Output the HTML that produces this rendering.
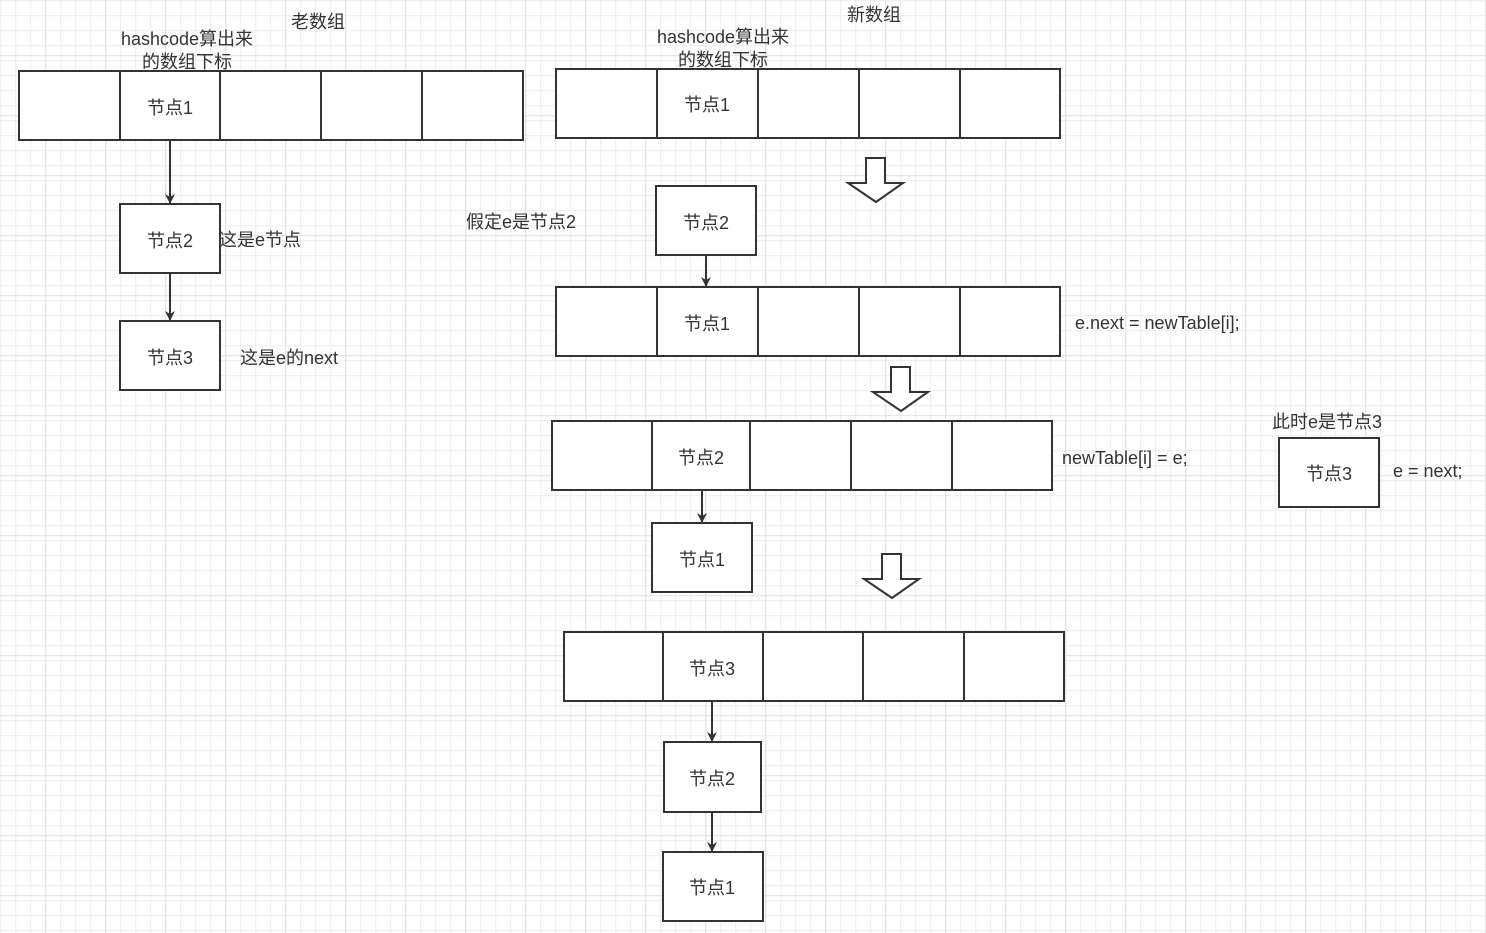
<!DOCTYPE html>
<html><head><meta charset="utf-8"><style>
html,body{margin:0;padding:0;background:#fff}
svg{display:block}
text{font-family:"Liberation Sans","Noto Sans CJK SC",sans-serif;font-size:18px;fill:#333}
</style></head><body>
<svg width="1486" height="933" xmlns="http://www.w3.org/2000/svg">
<defs>
<pattern id="g" width="15" height="15" patternUnits="userSpaceOnUse" x="0.2" y="0.2">
<path d="M0.5 0V15M0 0.5H15" stroke="#ececec" stroke-width="1" fill="none"/>
</pattern>
<pattern id="G" width="60" height="60" patternUnits="userSpaceOnUse" x="45.2" y="55.2">
<path d="M0.5 0V60M0 0.5H60" stroke="#e0e0e0" stroke-width="1" fill="none"/>
</pattern>
<marker id="a" markerWidth="10" markerHeight="10" refX="9" refY="5" orient="auto" markerUnits="userSpaceOnUse">
<path d="M0 0L10 5L0 10L3 5Z" fill="#333"/>
</marker>
</defs>
<rect width="1486" height="933" fill="url(#g)"/>
<rect width="1486" height="933" fill="url(#G)"/>
<g fill="#fff" stroke="#333" stroke-width="2">
<rect x="19" y="71" width="504" height="69"/>
<path d="M120 71V140M220 71V140M321 71V140M422 71V140"/>
<rect x="556" y="69" width="504" height="69"/>
<path d="M657 69V138M758 69V138M859 69V138M960 69V138"/>
<rect x="556" y="287" width="504" height="69"/>
<path d="M657 287V356M758 287V356M859 287V356M960 287V356"/>
<rect x="552" y="421" width="500" height="69"/>
<path d="M652 421V490M750 421V490M851 421V490M952 421V490"/>
<rect x="564" y="632" width="500" height="69"/>
<path d="M663 632V701M763 632V701M863 632V701M964 632V701"/>
<rect x="120" y="204" width="100" height="69"/>
<rect x="120" y="321" width="100" height="69"/>
<rect x="656" y="186" width="100" height="69"/>
<rect x="652" y="523" width="100" height="69"/>
<rect x="664" y="742" width="97" height="70"/>
<rect x="663" y="852" width="100" height="69"/>
<rect x="1279" y="438" width="100" height="69"/>
</g>
<g stroke="#333" stroke-width="2" marker-end="url(#a)">
<line x1="170" y1="141" x2="170" y2="203"/>
<line x1="170" y1="274" x2="170" y2="320"/>
<line x1="706" y1="256" x2="706" y2="286"/>
<line x1="702" y1="491" x2="702" y2="522"/>
<line x1="712" y1="702" x2="712" y2="741"/>
<line x1="712" y1="813" x2="712" y2="851"/>
</g>
<g fill="#fff" stroke="#333" stroke-width="2">
<path d="M866 158H885V183H903L876 202L848 183H866Z"/>
<path d="M891 367H910V392H928L901 411L873 392H891Z"/>
<path d="M882 554H901V579H919L892 598L864 579H882Z"/>
</g>
<g text-anchor="middle">
<text x="170" y="114">节点1</text>
<text x="170" y="247">节点2</text>
<text x="170" y="364">节点3</text>
<text x="707" y="111">节点1</text>
<text x="706" y="229">节点2</text>
<text x="707" y="330">节点1</text>
<text x="701" y="464">节点2</text>
<text x="702" y="566">节点1</text>
<text x="712" y="675">节点3</text>
<text x="712" y="785">节点2</text>
<text x="712" y="894">节点1</text>
<text x="1329" y="480">节点3</text>
<text x="187" y="45">hashcode算出来</text>
<text x="187" y="68">的数组下标</text>
<text x="723" y="43">hashcode算出来</text>
<text x="723" y="66">的数组下标</text>
<text x="318" y="28">老数组</text>
<text x="874" y="21">新数组</text>
</g>
<text x="219" y="246">这是e节点</text>
<text x="240" y="364">这是e的next</text>
<text x="466" y="228">假定e是节点2</text>
<text x="1075" y="329">e.next = newTable[i];</text>
<text x="1062" y="464">newTable[i] = e;</text>
<text x="1272" y="428">此时e是节点3</text>
<text x="1393" y="477">e = next;</text>
</svg>
</body></html>
